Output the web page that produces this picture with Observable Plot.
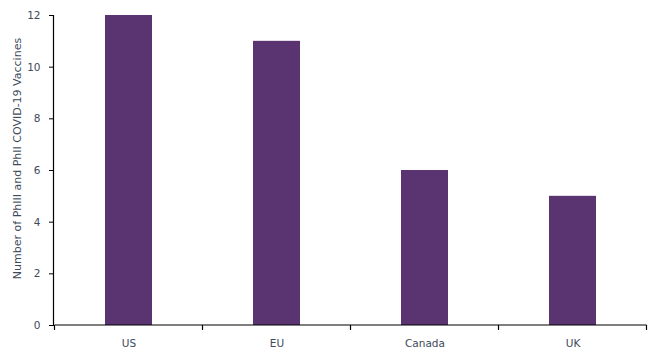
<!DOCTYPE html>
<html>
<head>
<meta charset="utf-8">
<script src="https://cdn.jsdelivr.net/npm/d3@7"></script>
<script src="https://cdn.jsdelivr.net/npm/@observablehq/plot@0.6"></script>
<style>
  body { margin: 0; background: #fff; }
  #chart svg { display: block; }
</style>
</head>
<body>
<div id="chart"></div>
<script>
const regions = ["US", "EU", "Canada", "UK"];
const vaccineCounts = [12, 11, 6, 5];
const yTicks = [0, 2, 4, 6, 8, 10, 12];
const yLabel = "Number of PhIII and PhII COVID-19 Vaccines";

const data = regions.map((r, i) => ({region: r, count: vaccineCounts[i]}));

// boundary tick marks between category bands, derived from the band scale
function bandBoundaryTicks(index, scales, values, dims) {
  const x = scales.scales.x;
  const g = d3.create("svg:g");
  const gap = (x.step - x.bandwidth) / 2;
  const y0 = dims.height - dims.marginBottom;
  const bounds = regions.map(r => x.apply(r) - gap);
  bounds.push(x.apply(regions[regions.length - 1]) + x.bandwidth + gap);
  for (const b of bounds) {
    g.append("line")
      .attr("x1", b).attr("x2", b)
      .attr("y1", y0).attr("y2", y0 + 5)
      .attr("stroke", "#000").attr("stroke-width", 1.2);
  }
  g.append("line")
    .attr("x1", bounds[0]).attr("x2", bounds[bounds.length - 1])
    .attr("y1", y0).attr("y2", y0)
    .attr("stroke", "#000").attr("stroke-width", 1.2);
  return g.node();
}

const chart = Plot.plot({
  width: 653,
  height: 357,
  marginLeft: 53,
  marginRight: 5,
  marginTop: 15,
  marginBottom: 32,
  style: {fontFamily: "DejaVu Sans", fontSize: "10.5px", color: "#404a5a", background: "#fff"},
  x: {domain: regions, paddingInner: 0.68, paddingOuter: 0.34, label: null},
  y: {domain: [0, 12], label: null},
  marks: [
    Plot.barY(data, {x: "region", y: "count", fill: "#5a3470"}),
    Plot.axisY({ticks: yTicks, tickSize: 4, tickPadding: 9, stroke: "#000", fill: "#404a5a", label: null}),
    Plot.axisX({tickSize: 0, tickPadding: 14, fill: "#404a5a", label: null}),
    Plot.frame({anchor: "left", stroke: "#000", strokeWidth: 1.2}),
    bandBoundaryTicks,
    Plot.text([yLabel], {
      frameAnchor: "left", textAnchor: "middle", dx: -36, dy: -12, rotate: -90, text: d => d,
      fill: "#404a5a", fontSize: 11
    })
  ]
});
document.getElementById("chart").append(chart);
</script>
</body>
</html>
